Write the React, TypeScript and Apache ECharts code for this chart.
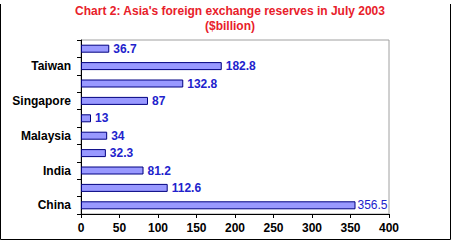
import React, { useEffect, useRef } from "react";
import * as echarts from "echarts";

const categories = [
  "China",
  "Hong Kong",
  "India",
  "Indonesia",
  "Malaysia",
  "Philippines",
  "Singapore",
  "South Korea",
  "Taiwan",
  "Thailand",
];
const reserves = [356.5, 112.6, 81.2, 32.3, 34, 13, 87, 132.8, 182.8, 36.7];
const xTicks = { min: 0, max: 400, interval: 50 };

const FONT = "'Liberation Sans', Arial, sans-serif";

export default function App() {
  const ref = useRef<HTMLDivElement>(null);
  useEffect(() => {
    document.body.style.margin = "0";
    const chart = echarts.init(ref.current!, null, { renderer: "svg" });
    const maxVal = Math.max(...reserves);
    chart.setOption({
      animation: false,
      backgroundColor: "#ffffff",
      title: {
        text: "Chart 2: Asia's foreign exchange reserves in July 2003\n($billion)",
        left: 230,
        textAlign: "center",
        top: 3,
        padding: 0,
        textStyle: {
          color: "#e8202a",
          fontSize: 12,
          fontWeight: "bold",
          fontFamily: FONT,
          lineHeight: 15,
        },
      },
      graphic: [
        {
          type: "polyline",
          shape: { points: [[0.5, 4], [0.5, 239.5], [450.5, 239.5], [450.5, 4]] },
          style: { stroke: "#000", lineWidth: 1, fill: "none" },
          silent: true,
        },
      ],
      grid: {
        left: 81,
        right: 62,
        top: 40,
        bottom: 26,
        show: true,
        borderColor: "#a0a0a0",
        borderWidth: 1,
        containLabel: false,
      },
      xAxis: {
        type: "value",
        min: xTicks.min,
        max: xTicks.max,
        interval: xTicks.interval,
        axisLine: { show: true, lineStyle: { color: "#000", width: 1 } },
        axisTick: { show: true, inside: false, length: 4, lineStyle: { color: "#000" } },
        splitLine: { show: false },
        axisLabel: {
          color: "#000",
          fontSize: 12,
          fontWeight: "bold",
          fontFamily: FONT,
          margin: 8,
        },
      },
      yAxis: {
        type: "category",
        data: categories,
        axisLine: { show: true, lineStyle: { color: "#000", width: 1 } },
        axisTick: { show: true, interval: 0, length: 4, lineStyle: { color: "#000" } },
        axisLabel: {
          interval: 1,
          color: "#000",
          fontSize: 12,
          fontWeight: "bold",
          fontFamily: FONT,
          margin: 10,
        },
        splitLine: { show: false },
      },
      series: [
        {
          type: "bar",
          data: reserves.map((v) =>
            v === maxVal ? { value: v, label: { fontWeight: "normal", distance: 2 } } : v
          ),
          barWidth: 8,
          itemStyle: { color: "#9999ff", borderColor: "#000080", borderWidth: 1 },
          label: {
            show: true,
            position: "right",
            distance: 4,
            color: "#2222cc",
            fontSize: 12,
            fontWeight: "bold",
            fontFamily: FONT,
          },
        },
      ],
    });
    return () => chart.dispose();
  }, []);
  return <div ref={ref} style={{ width: 451, height: 240 }} />;
}
